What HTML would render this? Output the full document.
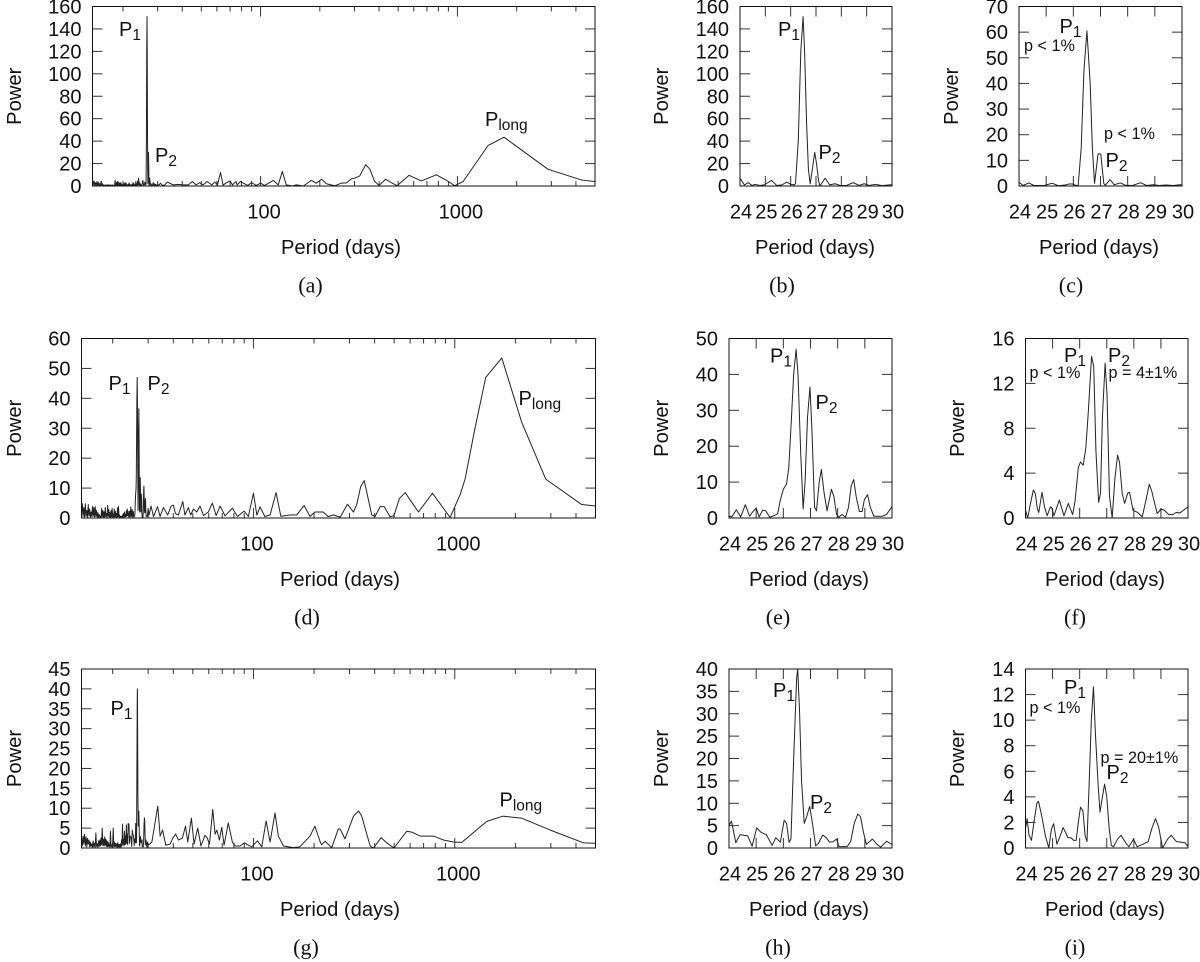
<!DOCTYPE html>
<html lang="en">
<head>
<meta charset="utf-8">
<title>Periodogram panels</title>
<style>
html,body{margin:0;padding:0;background:#fff;width:1200px;height:962px;overflow:hidden}
svg{display:block}
text{font-family:"Liberation Sans",sans-serif;fill:#111}
.cap{font-family:"Liberation Serif",serif}
</style>
</head>
<body>
<svg id="figure" xmlns="http://www.w3.org/2000/svg" width="1200" height="962" viewBox="0 0 1200 962"></svg>
<script>
// ---------- shared tick labels ----------
const zoomDays = [24, 25, 26, 27, 28, 29, 30];
const logMajor = [100, 1000];
const logMinor = [20, 30, 40, 50, 60, 70, 80, 90, 200, 300, 400, 500, 600, 700, 800, 900, 2000, 3000, 4000];

const ticksA = [0, 20, 40, 60, 80, 100, 120, 140, 160];
const ticksC = [0, 10, 20, 30, 40, 50, 60, 70];
const ticksD = [0, 10, 20, 30, 40, 50, 60];
const ticksE = [0, 10, 20, 30, 40, 50];
const ticksF = [0, 4, 8, 12, 16];
const ticksG = [0, 5, 10, 15, 20, 25, 30, 35, 40, 45];
const ticksH = [0, 5, 10, 15, 20, 25, 30, 35, 40];
const ticksI = [0, 2, 4, 6, 8, 10, 12, 14];

// ---------- series: short-period forest shared period grid (14-24 d) ----------
const periodShort = [14,14.125,14.25,14.375,14.5,14.625,14.75,14.875,15,15.125,15.25,15.375,15.5,15.625,15.75,15.875,16,
16.125,16.25,16.375,16.5,16.625,16.75,16.875,17,17.125,17.25,17.375,17.5,17.625,17.75,17.875,18,
18.125,18.25,18.375,18.5,18.625,18.75,18.875,19,19.125,19.25,19.375,19.5,19.625,19.75,19.875,20,
20.125,20.25,20.375,20.5,20.625,20.75,20.875,21,21.125,21.25,21.375,21.5,21.625,21.75,21.875,22,
22.125,22.25,22.375,22.5,22.625,22.75,22.875,23,23.125,23.25,23.375,23.5,23.625,23.75,23.875];

const powerShortA = [5,1,4.5,.5,3,.3,4,.4,3.5,.2,2,.5,4.5,.3,2,.2,1,
.2,1,.3,.8,.1,1.2,.2,.9,.3,1,.2,.8,.1,1,.3,.7,
.2,5,.4,3,.3,4,.5,3.5,.2,2.5,.3,3,.4,1.5,.2,1,
.3,2,.2,3,.4,2.5,.2,1,.3,1.5,.2,2.8,.4,1.2,.2,1,
.3,1.5,.2,3,.5,2,.3,1,.4,4,.3,2,.6,4.5,1];
const powerShortD = [1,4.8,.5,3.5,.3,4.8,.6,2.5,.2,4.5,.7,3,.3,2,.5,3.8,.6,
3.5,.4,3.8,.5,2.5,.3,1.8,.2,1.2,.3,.6,.1,3.2,.4,2.5,.3,
2,.3,3.5,.5,1.5,.2,4.2,.6,2.8,.3,1.8,.2,2.5,.4,3.2,.5,
1.2,.2,3,.4,2.2,.3,1.5,.2,3.4,.5,3.8,.3,1,.2,.6,.1,
.5,.2,1,.3,1.5,.4,2,.3,1.2,.5,2.4,.6,3,.8,2.2];
const powerShortG = [2.5,.5,3,1,3.5,.5,2.8,.3,2.4,1,2,.3,1.5,.4,1,.2,1.8,
.3,1.2,.2,3.8,.4,1,.2,1.8,.4,2,.5,2.5,.8,5,.6,2.2,
.5,2.8,.7,2.2,.4,1.8,.3,1.5,.4,1,.2,4.2,.4,.8,.2,1,
5,.4,1.5,.3,1.2,.4,1,.2,1.3,.3,1,.2,.9,.3,1,.2,
2,.5,6,1,2.2,.6,4.2,.8,3,1,5.8,1.2,3.5,.8,6.2];

// ---------- series: zoomed 24-30 d panels ----------
const periodB = [24,24.17,24.33,24.47,24.6,24.78,24.96,25.24,25.45,25.66,25.84,26,26.14,26.19,26.3,26.4,26.49,26.55,26.63,26.7,26.77,26.85,26.95,27.02,27.1,27.16,27.36,27.54,27.75,27.95,28.2,28.47,28.7,28.9,29.1,29.35,29.6,29.9,30];
const powerB = [7,1,3,.5,1.5,.5,1,5,.5,1,3.5,1.5,1,2,40,120,151,120,55,15,2,14,30,20,5,0,7,1,2,.5,.5,3,.5,2,.5,1.5,.3,1,1];

const periodC = [24,24.15,24.36,24.55,24.93,25.22,25.45,25.7,25.84,25.97,26.1,26.18,26.29,26.39,26.5,26.62,26.7,26.78,26.91,27.01,27.12,27.18,27.35,27.5,27.73,27.92,28.18,28.47,28.7,28.94,29.16,29.4,29.68,29.93,30];
const powerC = [1.5,.2,1.2,.2,.2,1.1,.1,.4,.8,.8,.2,.3,15,45,60.5,40,15,1,12.5,12.5,1,.3,2.5,.5,1.2,.3,.2,1.3,.2,.5,.2,.4,.2,.5,.5];

const periodE = [24,24.1,24.27,24.43,24.6,24.76,24.85,25,25.11,25.24,25.35,25.5,25.7,25.79,25.89,26,26.12,26.2,26.3,26.38,26.47,26.54,26.64,26.73,26.8,26.89,26.98,27.05,27.15,27.22,27.32,27.4,27.5,27.61,27.77,27.86,27.96,28.04,28.16,28.29,28.4,28.5,28.59,28.68,28.8,28.9,28.98,29.1,29.2,29.33,29.53,29.65,29.8,30];
const powerE = [.5,.3,2.3,.3,3.7,.5,1.5,2.8,.3,2.2,2,.2,.8,1.2,5,8,9.5,14,28,40,47,40,18,2.5,10,28,36.5,25,3,2,10,13.5,7,2,8,6,1,.2,1,.2,3,9,10.7,6,1.8,1.8,5,6.5,3,.5,.5,.5,1,3.2];

const periodF = [24,24.08,24.16,24.29,24.36,24.44,24.49,24.61,24.7,24.8,24.92,24.97,25.05,25.25,25.42,25.58,25.74,25.83,25.95,26.03,26.13,26.23,26.32,26.44,26.52,26.6,26.7,26.77,26.84,26.94,27.01,27.1,27.2,27.3,27.4,27.47,27.57,27.66,27.77,27.84,27.97,28.14,28.31,28.44,28.57,28.66,28.86,29.01,29.12,29.29,29.44,29.57,29.7,30];
const powerF = [.7,0,1,2.5,2.2,.8,.5,2.3,1,.2,1,.9,.2,1.6,.2,1.3,.3,1.5,4.5,5,4.7,6.3,9.5,14.4,13.5,6,1.4,2.2,9,13.8,11,2,0,3.5,5.6,5,2.2,1.3,2.2,2.3,.7,.5,.1,1.5,3,2.4,.4,.8,.7,.3,.3,.5,.45,1];

const periodH = [24,24.09,24.25,24.41,24.69,24.85,25.02,25.18,25.37,25.59,25.72,25.89,26.03,26.12,26.21,26.28,26.38,26.49,26.53,26.6,26.67,26.77,26.86,26.97,27.06,27.19,27.29,27.45,27.58,27.7,27.83,27.96,28.05,28.35,28.48,28.61,28.74,28.84,28.95,29.06,29.28,29.45,29.58,29.8,30];
const powerH = [5,6,1.2,3,2.7,.4,4.5,3.5,3,.6,2.3,1.3,6.2,5.5,1.3,2,20,38,40,30,15,5.5,7,9.3,6,.5,1,2.9,2.3,1.3,1.4,2,.3,.3,1.5,5.5,7.6,7,3.5,.8,2,.8,.2,1.5,.8];

const periodI = [24,24.06,24.13,24.22,24.31,24.42,24.48,24.6,24.73,24.86,24.96,25.04,25.16,25.29,25.39,25.57,25.68,25.78,25.87,25.95,26.03,26.12,26.2,26.27,26.35,26.43,26.51,26.58,26.68,26.75,26.84,26.92,27,27.09,27.17,27.25,27.4,27.53,27.7,27.82,27.99,28.12,28.34,28.53,28.66,28.8,28.92,29.06,29.25,29.38,29.57,29.77,29.9,30];
const powerI = [1.5,2.3,1,.6,2,3.5,3.65,2.5,1,0,1.5,1.9,.3,1,1.6,.8,.8,.6,.6,2,3.2,2.9,1,.5,5,10,12.6,9,5,2.8,4,5,4,1.5,.2,.1,.7,1,.4,.1,.7,.1,.3,.5,1.5,2.3,1.6,0,.7,1,.5,.45,.4,.1];

// ---------- series: long-period parts (>30 d) ----------
const periodLongA = [30.5,31,31.7,32.6,33.6,36,38,40.5,43,45,47,49,51,53.5,56.5,58.5,60.4,62.6,64.5,66.5,70,72,75,76,79,86,90,95,100,105,116,123,129,135,145,152,165,181,192,204,216,238,258,273,290,301,319,342,359,380,400,432,462,494,568,656,782,880,969,1068,1430,1725,2880,4260,4975];
const powerLongA = [1,2.5,.5,1,3.5,1,1.5,1,1,4,1,3,1,4,1,3.5,1,12,.8,2.5,4.5,1,4,1,4,.5,3,.5,2.5,.5,5,1,13,1,0,1,0,5,2.5,6,2,.2,2.6,2.8,6.5,7,9,19,15,4,.5,6,3,.3,9.5,4.5,10,5,.3,3.9,36,43.5,15,5.4,4];

const periodLongD = [30.3,31,31.9,33.4,34.4,35.7,37.5,39,40,41,42.4,44.6,45.7,47.5,48.8,50.4,52.3,54.3,56.5,59.7,62.5,65.3,68.3,72.3,78.6,83.3,89.9,94.4,100,104,107.9,114,121,129.6,136.8,152,164,178.5,191,202,214,222,235,250,270,293,314,326,341,355,387,402,426,446,477,499,531,567,660,775,862,948,1063,1125,1260,1425,1712,2150,2830,4270,4990];
const powerLongD = [1,4,.5,3.8,.5,3.5,1,4,4.3,1.5,1,5.5,1,3.5,1,3,2,4,.8,2,5,.8,4,.7,3.3,.5,2.3,.5,8.3,1,3.7,.5,1,8.5,.6,1,1,4.2,.5,2,2,2,.5,1,.3,4.6,2,4.5,10.5,12.5,1,.5,3.8,3.8,.4,.8,6.5,8.5,2,8.3,4,.2,7.8,13,30,47,53.5,32,13,4.5,4];

const periodLongG = [30.6,31.3,33.5,34.4,35.4,36.7,38.6,39.8,41.1,42.4,44.4,46,47.2,49.2,50.7,52.9,54.9,57.5,59,60.5,62.8,64.5,65.8,67.8,69.6,71.5,75,78.6,81.1,85.8,90.2,94.4,98.1,104.7,110,115.6,121,128,133,141,158,170,191,202,214,218,227,231,245,264,270,285,314,333,345,380,395,431,459,499,577,611,673,784,879,985,1083,1442,1732,2150,2980,4360,4990];
const powerLongG = [1,1.5,10.5,3,4.5,.7,1,2.5,3.5,2,2.5,5.5,1.5,7.5,1,5,.5,3.2,2.5,1,9.7,3.5,4.5,2,5.2,.7,6.3,1.5,.5,.5,1.3,.7,.3,1.8,.3,6.8,1.5,8.8,3,.5,.1,.3,3,5.5,1.7,.8,1.7,1.3,.1,4.8,4.7,2.3,8,9.3,8,.5,0,2.6,1.3,0,4.2,4,3,3,2,1.5,1.4,6.7,8,7.5,4.5,1.3,1.2];

// ---------- drawing ----------
const NS = 'http://www.w3.org/2000/svg';
const root = document.getElementById('figure');

function make(tag, parent, attrs) {
  const el = document.createElementNS(NS, tag);
  for (const k in attrs) el.setAttribute(k, attrs[k]);
  parent.appendChild(el);
  return el;
}
function logScale(box) {
  const lo = Math.log10(14), hi = Math.log10(5000);
  return p => box.left + (Math.log10(p) - lo) / (hi - lo) * (box.right - box.left);
}
function linScale(box) {
  return d => box.left + (d - 24) / 6 * (box.right - box.left);
}
function yScale(box, ymax) {
  return v => box.bottom - v / ymax * (box.bottom - box.top);
}
function tick(g, x1, y1, x2, y2, name) {
  const t = make('line', g, {x1: x1, y1: y1, x2: x2, y2: y2, stroke: '#333', 'stroke-width': 1});
  
  
}
function label(g, x, y, str, size, anchor, name) {
  const t = make('text', g, {x: x, y: y, 'font-size': size, 'text-anchor': anchor});
  t.textContent = str;
  
  
  return t;
}
function peak(g, x, y, base, sub) {
  const t = make('text', g, {x: x, y: y, 'font-size': 20});
  t.textContent = base;
  const s = make('tspan', t, {'font-size': 15.5, dy: 4});
  s.textContent = sub;
  
  
}

function panel(spec) {
  const box = spec.box;
  const g = make('g', root, {});
  
  
  const X = spec.log ? logScale(box) : linScale(box);
  const Y = yScale(box, spec.ticks[spec.ticks.length - 1]);
  const tl = 10;

  spec.ticks.forEach(v => {
    tick(g, box.left, Y(v), box.left + tl, Y(v), 'y-tick');
    tick(g, box.right, Y(v), box.right - tl, Y(v), 'y-tick-mirror');
    label(g, box.left - 11, Y(v) + 7, String(v), 20, 'end', 'y-tick-label');
  });

  if (spec.log) {
    logMinor.forEach(p => {
      tick(g, X(p), box.bottom, X(p), box.bottom - 5, 'x-minor-tick');
      tick(g, X(p), box.top, X(p), box.top + 5, 'x-minor-tick-mirror');
    });
    logMajor.forEach(p => {
      tick(g, X(p), box.bottom, X(p), box.bottom - tl, 'x-tick');
      tick(g, X(p), box.top, X(p), box.top + tl, 'x-tick-mirror');
      label(g, X(p) + 3.5, box.bottom + 32.5, String(p), 20, 'middle', 'x-tick-label');
    });
  } else {
    zoomDays.forEach(d => {
      tick(g, X(d), box.bottom, X(d), box.bottom - tl, 'x-tick');
      tick(g, X(d), box.top, X(d), box.top + tl, 'x-tick-mirror');
      label(g, X(d) + 1, box.bottom + 32.5, String(d), 20, 'middle', 'x-tick-label');
    });
  }

  const pts = spec.periods.map((p, i) => X(p).toFixed(2) + ',' + Y(spec.powers[i]).toFixed(2)).join(' ');
  const line = make('polyline', g, {points: pts, fill: 'none', stroke: '#222', 'stroke-width': 1, 'stroke-linejoin': 'round'});
  
  

  const frame = make('rect', g, {x: box.left, y: box.top, width: box.right - box.left, height: box.bottom - box.top, fill: 'none', stroke: '#111', 'stroke-width': 1});
  
  

  const yt = label(g, 0, 0, 'Power', 20.2, 'middle', 'y-axis-title');
  yt.setAttribute('transform', 'translate(' + (spec.powerX + 7) + ' ' + ((box.top + box.bottom) / 2) + ') rotate(-90)');
  label(g, spec.titleX, box.bottom + 68, 'Period (days)', 20.2, 'middle', 'x-axis-title');
  const c = label(g, spec.capX, box.bottom + 106.5, '(' + spec.id + ')', 22, 'middle', 'panel-caption');
  c.setAttribute('class', 'cap');

  spec.peaks.forEach(a => peak(g, a[0], a[1], a[2], a[3]));
  spec.notes.forEach(a => label(g, a[0], a[1], a[2], 16.2, 'start', 'significance-note'));
}

const row1 = {top: 6.5, bottom: 186};
const row2 = {top: 338.5, bottom: 518};
const row3 = {top: 669, bottom: 848};

panel({id: 'a', log: true, box: {left: 92.5, right: 595, top: row1.top, bottom: row1.bottom}, ticks: ticksA,
  periods: periodShort.concat(periodB, periodLongA), powers: powerShortA.concat(powerB, powerLongA),
  powerX: 14, titleX: 341, capX: 310.5,
  peaks: [[119, 36, 'P', '1'], [155, 162, 'P', '2'], [485, 126, 'P', 'long']], notes: []});
panel({id: 'b', box: {left: 740, right: 892, top: row1.top, bottom: row1.bottom}, ticks: ticksA,
  periods: periodB, powers: powerB, powerX: 661, titleX: 815, capX: 782,
  peaks: [[778, 36, 'P', '1'], [818.5, 159, 'P', '2']], notes: []});
panel({id: 'c', box: {left: 1019, right: 1182, top: row1.top, bottom: row1.bottom}, ticks: ticksC,
  periods: periodC, powers: powerC, powerX: 951, titleX: 1099, capX: 1071,
  peaks: [[1059.5, 33, 'P', '1'], [1105.5, 167, 'P', '2']],
  notes: [[1024, 51, 'p < 1%'], [1104, 139, 'p < 1%']]});

panel({id: 'd', log: true, box: {left: 81.5, right: 595.5, top: row2.top, bottom: row2.bottom}, ticks: ticksD,
  periods: periodShort.concat(periodE, periodLongD), powers: powerShortD.concat(powerE, powerLongD),
  powerX: 14, titleX: 340, capX: 307,
  peaks: [[108.5, 390, 'P', '1'], [147.5, 390, 'P', '2'], [518.5, 405, 'P', 'long']], notes: []});
panel({id: 'e', box: {left: 729, right: 892, top: row2.top, bottom: row2.bottom}, ticks: ticksE,
  periods: periodE, powers: powerE, powerX: 661, titleX: 809, capX: 778,
  peaks: [[770, 362.5, 'P', '1'], [815.5, 409, 'P', '2']], notes: []});
panel({id: 'f', box: {left: 1025.5, right: 1188, top: row2.top, bottom: row2.bottom}, ticks: ticksF,
  periods: periodF, powers: powerF, powerX: 957, titleX: 1105, capX: 1075,
  peaks: [[1064, 362, 'P', '1'], [1108, 362, 'P', '2']],
  notes: [[1029.5, 378, 'p < 1%'], [1108.5, 378, 'p = 4±1%']]});

panel({id: 'g', log: true, box: {left: 81.5, right: 595.5, top: row3.top, bottom: row3.bottom}, ticks: ticksG,
  periods: periodShort.concat(periodH, periodLongG), powers: powerShortG.concat(powerH, powerLongG),
  powerX: 14, titleX: 340, capX: 306,
  peaks: [[110.5, 715, 'P', '1'], [499.5, 806.5, 'P', 'long']], notes: []});
panel({id: 'h', box: {left: 729, right: 892, top: row3.top, bottom: row3.bottom}, ticks: ticksH,
  periods: periodH, powers: powerH, powerX: 661, titleX: 809, capX: 778,
  peaks: [[773, 697, 'P', '1'], [810, 809, 'P', '2']], notes: []});
panel({id: 'i', box: {left: 1025.5, right: 1188, top: row3.top, bottom: row3.bottom}, ticks: ticksI,
  periods: periodI, powers: powerI, powerX: 957, titleX: 1105, capX: 1075,
  peaks: [[1064, 694, 'P', '1'], [1106.5, 779, 'P', '2']],
  notes: [[1029.5, 713, 'p < 1%'], [1100.5, 763, 'p = 20±1%']]});
</script>
</body>
</html>
